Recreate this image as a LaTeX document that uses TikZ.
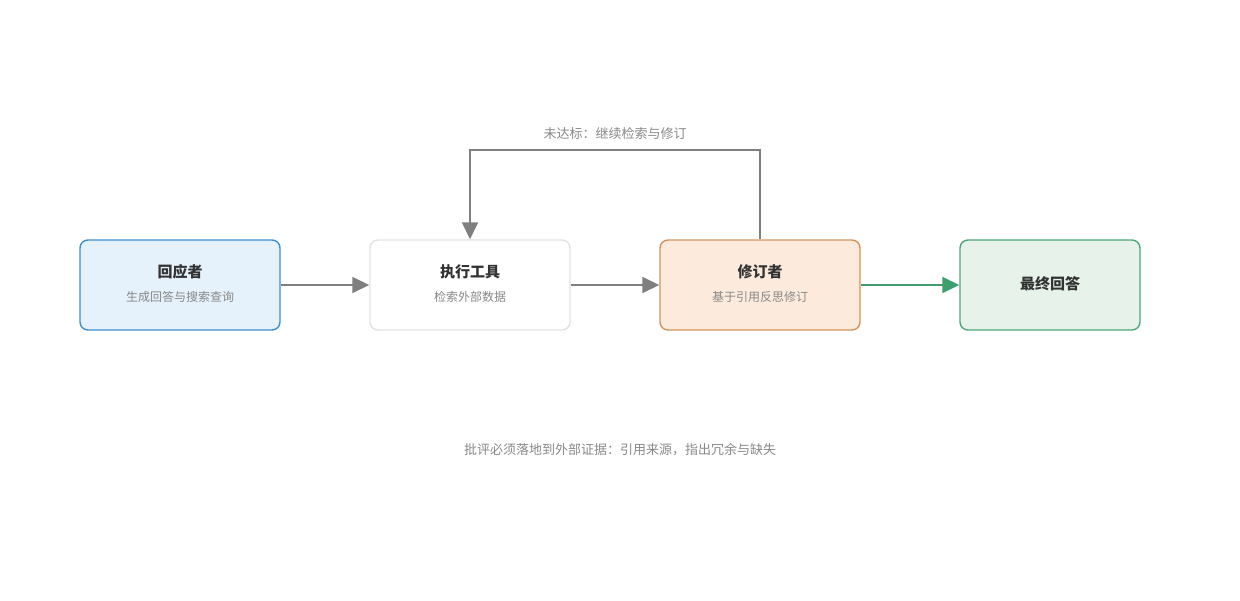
\documentclass[tikz,border=0pt]{standalone}
\usepackage{fontspec}
\setmainfont{Noto Sans CJK SC}
\newfontfamily\cjkb{Noto Sans CJK SC Bold}
\usetikzlibrary{arrows.meta}
\definecolor{bluefill}{HTML}{E6F2FB}
\definecolor{blueline}{HTML}{3D8FD1}
\definecolor{greyline}{HTML}{E2E2E2}
\definecolor{orfill}{HTML}{FCEBDD}
\definecolor{orline}{HTML}{D4925A}
\definecolor{grfill}{HTML}{E6F2EA}
\definecolor{grline}{HTML}{4FA77A}
\definecolor{arrgrey}{HTML}{7F7F7F}
\definecolor{arrgreen}{HTML}{3E9E6E}
\definecolor{subgrey}{HTML}{888888}
\definecolor{titlec}{HTML}{333333}
\tikzset{
  box/.style={draw, line width=1.4pt, rounded corners=8pt, minimum height=90pt, inner sep=0pt},
  conn/.style={draw=arrgrey, line width=1.6pt, -{Triangle[length=17pt,width=16pt]}},
  title/.style={font=\fontsize{15}{18}\selectfont\bfseries, text=titlec},
  sub/.style={font=\fontsize{12}{14}\selectfont, text=subgrey},
  lbl/.style={font=\fontsize{13}{16}\selectfont, text=subgrey},
}
\begin{document}
\begin{tikzpicture}[x=1pt,y=-1pt]
\useasboundingbox (0,0) rectangle (1240,600);
\node[box, fill=bluefill, draw=blueline, minimum width=200pt] (a) at (180,285) {};
\node[box, fill=white, draw=greyline, minimum width=200pt] (b) at (470,285) {};
\node[box, fill=orfill, draw=orline, minimum width=200pt] (c) at (760,285) {};
\node[box, fill=grfill, draw=grline, minimum width=180pt] (d) at (1050,285) {};
\node[title] (at) at (180,272) {回应者};
\node[sub] (as) at (180,297) {生成回答与搜索查询};
\node[title] (bt) at (470,272) {执行工具};
\node[sub] (bs) at (470,297) {检索外部数据};
\node[title] (ct) at (760,272) {修订者};
\node[sub] (cs) at (760,297) {基于引用反思修订};
\node[title] (dt) at (1050,284) {最终回答};
\draw[conn] (a.east) -- (b.west);
\draw[conn] (b.east) -- (c.west);
\draw[conn, draw=arrgreen, fill=arrgreen] (c.east) -- (d.west);
\coordinate (p1) at (760,150);
\coordinate (p2) at (470,150);
\draw[conn] (c.north) -- (p1) -- (p2) -- (b.north);
\node[lbl] (loop) at (615,134) {未达标：继续检索与修订};
\node[lbl] (note) at (620,450) {批评必须落地到外部证据：引用来源，指出冗余与缺失};
\end{tikzpicture}
\end{document}
